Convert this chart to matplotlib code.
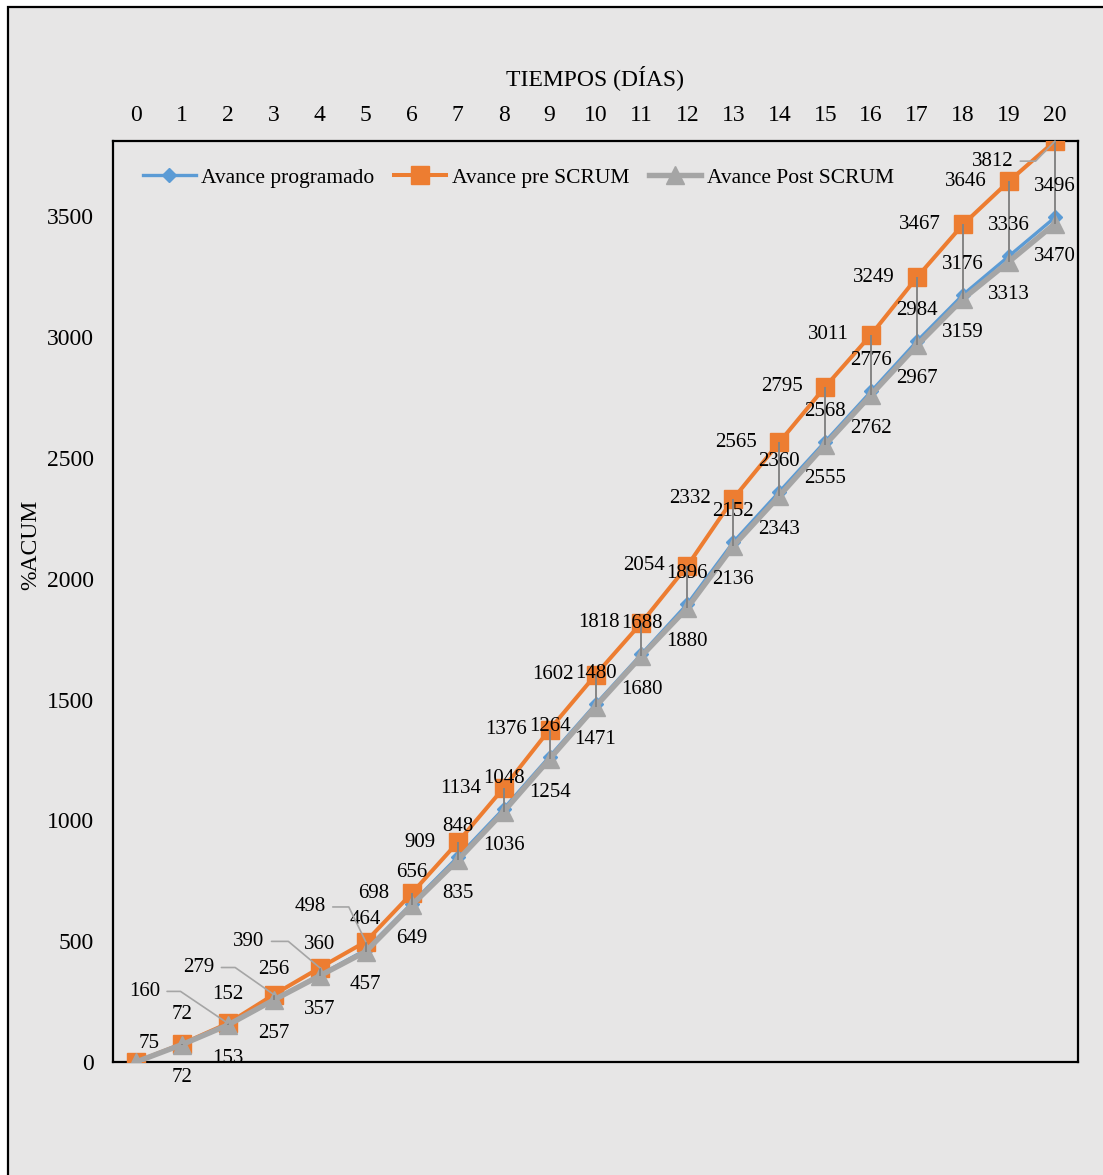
import matplotlib
matplotlib.use("Agg")
import matplotlib.pyplot as plt
from matplotlib.patches import Rectangle
import numpy as np

plt.rcParams['font.family'] = ['Liberation Serif', 'DejaVu Serif']

# --- data -------------------------------------------------------------
dias = list(range(0, 21))
avance_programado = [0, 72, 152, 256, 360, 464, 656, 848, 1048, 1264, 1480,
                     1688, 1896, 2152, 2360, 2568, 2776, 2984, 3176, 3336, 3496]
avance_pre_scrum = [0, 75, 160, 279, 390, 498, 698, 909, 1134, 1376, 1602,
                    1818, 2054, 2332, 2565, 2795, 3011, 3249, 3467, 3646, 3812]
avance_post_scrum = [0, 72, 153, 257, 357, 457, 649, 835, 1036, 1254, 1471,
                     1680, 1880, 2136, 2343, 2555, 2762, 2967, 3159, 3313, 3470]
series_names = ["Avance programado", "Avance pre SCRUM", "Avance Post SCRUM"]
y_ticks = [0, 500, 1000, 1500, 2000, 2500, 3000, 3500]
x_title = "TIEMPOS (DÍAS)"
y_title = "%ACUM"

# --- style ------------------------------------------------------------
BG = "#E7E6E6"
C_BLUE = "#5B9BD5"
C_ORANGE = "#ED7D31"
C_GRAY = "#A5A5A5"
C_HILO = "#858585"
FS = 15        # data labels
FS_AX = 17     # tick labels and axis titles
FS_LEG = 15.5

W, H, DPI = 1103, 1175, 100
fig = plt.figure(figsize=(W / DPI, H / DPI), dpi=DPI, facecolor="white")

# chart-area panel with its outline (behind the axes)
panel = Rectangle((8 / W, -0.05), 1.2, 1 - 7 / H + 0.05,
                  transform=fig.transFigure, facecolor=BG,
                  edgecolor="black", linewidth=1.6, zorder=-10)
fig.add_artist(panel)

ax = fig.add_axes([113 / W, 1 - 1062 / H, (1078 - 113) / W, (1062 - 141) / H])
ax.set_zorder(1)
ax.set_facecolor(BG)
for s in ax.spines.values():
    s.set_color("black")
    s.set_linewidth(1.6)

x = np.array(dias)
ax.plot(x, avance_programado, color=C_BLUE, lw=2.4, marker="D", ms=7,
        mec=C_BLUE, mfc=C_BLUE, label=series_names[0], zorder=3)
ax.plot(x, avance_pre_scrum, color=C_ORANGE, lw=2.9, marker="s", ms=12.5,
        mec=C_ORANGE, mfc=C_ORANGE, label=series_names[1], zorder=4)
ax.plot(x, avance_post_scrum, color=C_GRAY, lw=3.9, marker="^", ms=12.5,
        mec=C_GRAY, mfc=C_GRAY, label=series_names[2], zorder=5)

# high-low lines between the series at each day
hi = np.maximum.reduce([avance_programado, avance_pre_scrum, avance_post_scrum])
lo = np.minimum.reduce([avance_programado, avance_pre_scrum, avance_post_scrum])
ax.vlines(x, lo, hi, colors=C_HILO, linewidth=1.4, zorder=6)

ax.set_xlim(-0.5, 20.5)
ax.set_ylim(0, avance_pre_scrum[-1])
ax.xaxis.tick_top()
ax.xaxis.set_label_position("top")
ax.set_xticks(dias)
ax.set_yticks(y_ticks)
ax.tick_params(axis="x", length=0, pad=11, labelsize=FS_AX)
ax.tick_params(axis="y", length=0, pad=14, labelsize=FS_AX)
ax.set_xlabel(x_title, fontsize=FS_AX, labelpad=14)
ax.set_ylabel(y_title, fontsize=FS_AX)
ax.yaxis.set_label_coords(-0.074, 0.561)

# data labels
leader = {2: (-60, 23, 146), 3: (-54, 19.5, 145), 4: (-51, 19, 140),
          5: (-40, 25, 116), 20: (-45, -14.5, -134)}
for i in dias[1:]:
    ax.annotate(str(avance_programado[i]), (i, avance_programado[i]),
                xytext=(0, 22), textcoords="offset points", ha="center",
                va="center", fontsize=FS, zorder=8, annotation_clip=False)
    ax.annotate(str(avance_post_scrum[i]), (i, avance_post_scrum[i]),
                xytext=(0, -24), textcoords="offset points", ha="center",
                va="center", fontsize=FS, zorder=8, annotation_clip=False)
    if i in leader:
        dx, dy, ang = leader[i]
        ax.annotate(str(avance_pre_scrum[i]), (i, avance_pre_scrum[i]),
                    xytext=(dx, dy), textcoords="offset points", ha="center",
                    va="center", fontsize=FS, zorder=8, annotation_clip=False,
                    arrowprops=dict(arrowstyle="-", color=C_GRAY, lw=1.2,
                                    shrinkA=3, shrinkB=0,
                                    connectionstyle=f"angle,angleA=0,angleB={ang},rad=0"))
    else:
        ax.annotate(str(avance_pre_scrum[i]), (i, avance_pre_scrum[i]),
                    xytext=(-16, 0), textcoords="offset points", ha="right",
                    va="center", fontsize=FS, zorder=8, annotation_clip=False)

ax.legend(loc="center left", bbox_to_anchor=(0.031, 0.96), ncol=3,
          frameon=False, fontsize=FS_LEG, handlelength=2.45, handletextpad=0.25,
          columnspacing=0.9, borderpad=0, borderaxespad=0)

fig.savefig("out.png", dpi=DPI, facecolor="white")
